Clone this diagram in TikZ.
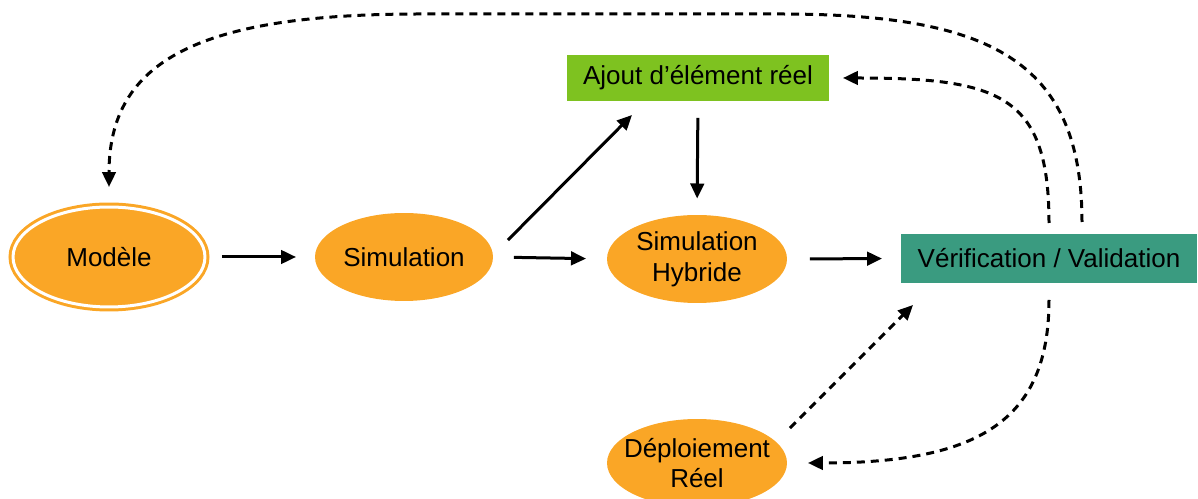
\documentclass[tikz,border=0pt]{standalone}
\usepackage{fontspec}
\setmainfont{Liberation Sans}
\usetikzlibrary{calc,shapes.geometric,arrows.meta}
\definecolor{etape}{RGB}{250,166,38}
\definecolor{reel}{RGB}{126,194,32}
\definecolor{verif}{RGB}{58,155,128}

\tikzset{
	txt/.style={font=\fontsize{14.8pt}{17.5pt}\selectfont, align=center, inner sep=0pt, outer sep=0pt},
	etapeell/.style={txt, ellipse, fill=etape, minimum width=3.6cm, minimum height=1.76cm},
	boite/.style={txt, rectangle},
	fleche/.style={line width=0.06cm, -{Triangle[length=0.3cm,width=0.27cm]}},
	retour/.style={fleche, dash pattern=on 0.16cm off 0.12cm}
}

\begin{document}
\begin{tikzpicture}[x=0.02cm, y=-0.02cm]
		%%%%% START %%%%%
		\useasboundingbox (0,0) rectangle (1198,499);
		
		% etapes
		\node[etapeell, draw=etape, double=white, double distance=0.06cm, line width=0.06cm,
			minimum width=3.84cm, minimum height=2cm] (modele) at (109,257) {Modèle};
		\node[etapeell, minimum width=3.56cm] (sim) at (404,257) {Simulation};
		\node[etapeell] (hyb) at (697,259) {\makebox[0pt]{Simulation}\\\makebox[0pt]{Hybride}};
		\node[etapeell] (depl) at (697,463) {\makebox[0pt]{Déploiement}\\\makebox[0pt]{Réel}};
		
		% boites
		\node[boite, fill=reel, minimum width=5.24cm, minimum height=0.92cm] (ajout) at (698,78) {Ajout d’élément réel};
		\node[boite, fill=verif, minimum width=5.92cm, minimum height=0.98cm] (valid) at (1049,258.5) {Vérification / Validation};
		
		% fleches pleines
		\draw[fleche, shorten <=0.34cm, shorten >=0.38cm] (modele.east) -- (sim.west);
		\draw[fleche, shorten <=0.42cm, shorten >=0.42cm] (sim.east) -- (hyb.west);
		\draw[fleche] ($(sim.east)+(15,-17)$) -- ($(ajout.south west)+(65,14)$);
		\draw[fleche, shorten <=0.34cm, shorten >=0.33cm] (ajout.south) -- (hyb.north);
		\draw[fleche, shorten <=0.46cm, shorten >=0.38cm] (hyb.east) -- (valid.west);
		
		% fleches de retour
		\draw[retour] ($(depl.east)+(3,-35)$) -- ($(valid.south west)+(12,22)$);
		\draw[retour] ($(valid.south)+(0,17)$) .. controls +(0,120) and +(172,0) .. ($(depl.east)+(21,0)$);
		\draw[retour] ($(valid.north)+(0,-11)$) .. controls +(0,-128) and +(157,0) .. ($(ajout.east)+(14,0)$);
		
		\coordinate (hautD) at (780,14);
		\coordinate (hautG) at (420,14);
		\draw[retour] ($(valid.north)+(33,-12)$) .. controls +(0,-162) and +(210,0) .. (hautD)
			-- (hautG) .. controls +(-220,0) and +(0,-127) .. ($(modele.north)+(0,-20)$);
		
		%%%%% END %%%%%
	\end{tikzpicture}
\end{document}
